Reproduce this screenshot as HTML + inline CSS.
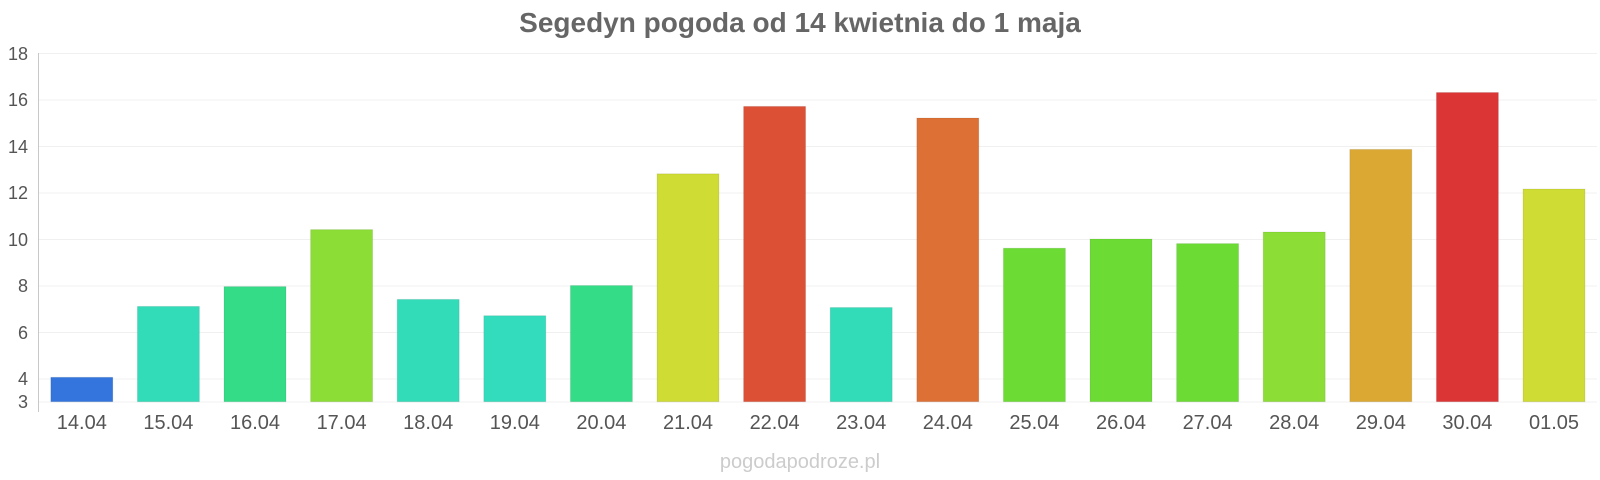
<!DOCTYPE html>
<html><head><meta charset="utf-8"><style>body{margin:0;background:#fff}svg{display:block}</style></head><body>
<svg width="1600" height="480" xmlns="http://www.w3.org/2000/svg" font-family="Liberation Sans, Arial, sans-serif">
<rect width="1600" height="480" fill="#fff"/>
<text x="800" y="32" text-anchor="middle" font-size="28" font-weight="bold" fill="#666">Segedyn pogoda od 14 kwietnia do 1 maja</text>
<g stroke="#f0f0f0" stroke-width="1">
<line x1="38" x2="1597" y1="53.5" y2="53.5"/><line x1="38" x2="1597" y1="100" y2="100"/><line x1="38" x2="1597" y1="146.5" y2="146.5"/><line x1="38" x2="1597" y1="193" y2="193"/><line x1="38" x2="1597" y1="239.5" y2="239.5"/><line x1="38" x2="1597" y1="286" y2="286"/><line x1="38" x2="1597" y1="332.5" y2="332.5"/><line x1="38" x2="1597" y1="379" y2="379"/><line x1="38" x2="1597" y1="402" y2="402"/>
</g>
<line x1="38.5" x2="38.5" y1="53" y2="412" stroke="#c8c8c8"/>
<g font-size="18" fill="#555" text-anchor="end">
<text x="28" y="60">18</text><text x="28" y="106">16</text><text x="28" y="153">14</text><text x="28" y="199">12</text><text x="28" y="246">10</text><text x="28" y="292">8</text><text x="28" y="339">6</text><text x="28" y="385">4</text><text x="28" y="408">3</text>
</g>
<g stroke="rgba(0,0,0,0.08)">
<rect x="50.8" y="377.3" width="62" height="24.4" fill="#3375dd"/>
<rect x="137.4" y="306.4" width="62" height="95.3" fill="#33dcb9"/>
<rect x="224.0" y="286.6" width="62" height="115.1" fill="#35dc88"/>
<rect x="310.6" y="229.6" width="62" height="172.1" fill="#8cdd35"/>
<rect x="397.2" y="299.4" width="62" height="102.3" fill="#33dcb9"/>
<rect x="483.8" y="315.7" width="62" height="86.0" fill="#33dcbc"/>
<rect x="570.4" y="285.5" width="62" height="116.2" fill="#35dc88"/>
<rect x="657.0" y="173.8" width="62" height="227.9" fill="#cedc33"/>
<rect x="743.6" y="106.4" width="62" height="295.3" fill="#dc5036"/>
<rect x="830.2" y="307.5" width="62" height="94.2" fill="#33dcb9"/>
<rect x="916.8" y="118.0" width="62" height="283.7" fill="#dc7035"/>
<rect x="1003.4" y="248.2" width="62" height="153.5" fill="#6cdc35"/>
<rect x="1090.0" y="239.0" width="62" height="162.7" fill="#6cdc35"/>
<rect x="1176.6" y="243.6" width="62" height="158.1" fill="#6cdc35"/>
<rect x="1263.2" y="232.0" width="62" height="169.7" fill="#8cdd35"/>
<rect x="1349.8" y="149.4" width="62" height="252.3" fill="#dba834"/>
<rect x="1436.4" y="92.5" width="62" height="309.2" fill="#dc3535"/>
<rect x="1523.0" y="189.0" width="62" height="212.7" fill="#cedc33"/>
</g>
<g font-size="20" fill="#555" text-anchor="middle">
<text x="81.8" y="429">14.04</text><text x="168.4" y="429">15.04</text><text x="255.0" y="429">16.04</text><text x="341.6" y="429">17.04</text><text x="428.2" y="429">18.04</text><text x="514.8" y="429">19.04</text><text x="601.4" y="429">20.04</text><text x="688.0" y="429">21.04</text><text x="774.6" y="429">22.04</text><text x="861.2" y="429">23.04</text><text x="947.8" y="429">24.04</text><text x="1034.4" y="429">25.04</text><text x="1121.0" y="429">26.04</text><text x="1207.6" y="429">27.04</text><text x="1294.2" y="429">28.04</text><text x="1380.8" y="429">29.04</text><text x="1467.4" y="429">30.04</text><text x="1554.0" y="429">01.05</text>
</g>
<text x="800" y="468" text-anchor="middle" font-size="20" fill="#ccc">pogodapodroze.pl</text>
</svg>
</body></html>
